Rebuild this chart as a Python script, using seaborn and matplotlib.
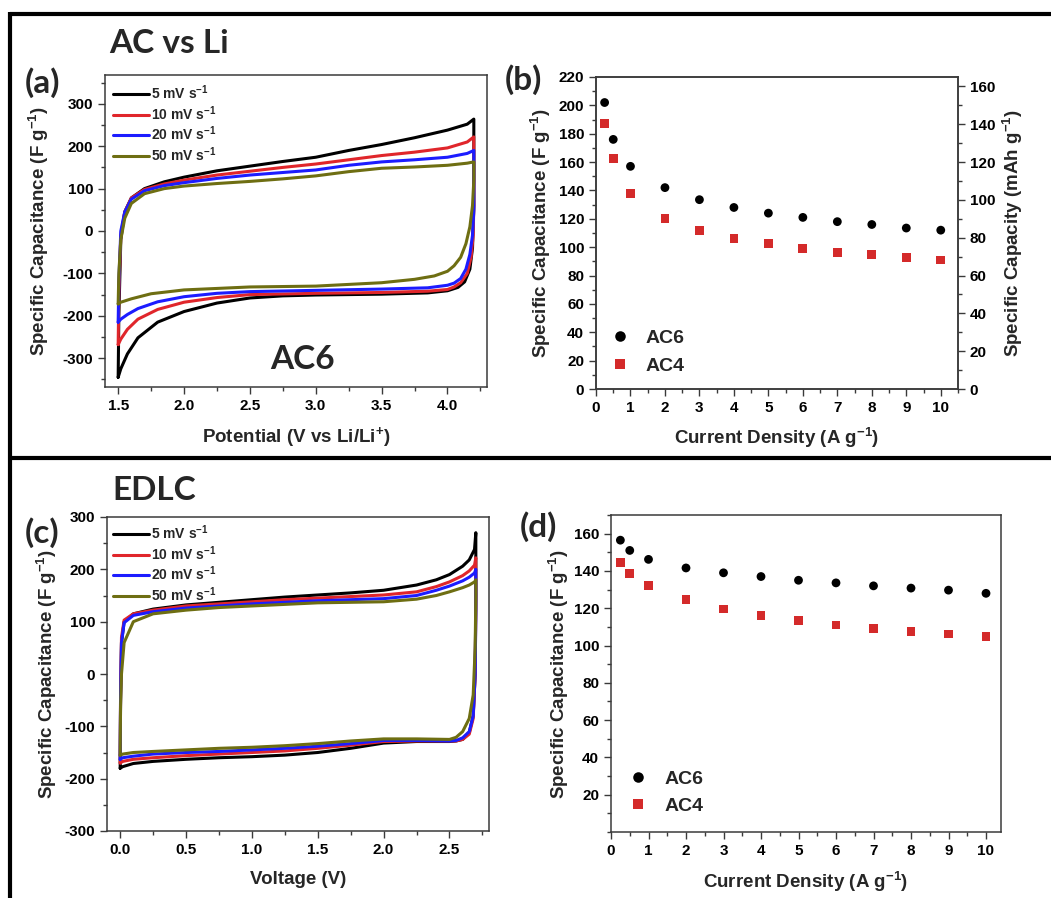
import numpy as np
import pandas as pd
import matplotlib
matplotlib.use("Agg")
import matplotlib.pyplot as plt
import seaborn as sns
from matplotlib.lines import Line2D
from matplotlib.ticker import MultipleLocator

# ----------------------------------------------------------
# DATA
# ----------------------------------------------------------
rates = ["5 mV s$^{-1}$", "10 mV s$^{-1}$", "20 mV s$^{-1}$", "50 mV s$^{-1}$"]
rate_colors = ["#000000", "#e0262b", "#1c1cff", "#6e6e12"]

# (a) CV, AC vs Li  -- anodic branch then cathodic branch
a_up_v = [1.50, 1.505, 1.52, 1.55, 1.60, 1.70, 1.85, 2.00, 2.25, 2.50, 2.75, 3.00, 3.25, 3.50, 3.75, 4.00, 4.15, 4.20]
a5_up = [-345, -200, -20, 45, 78, 100, 116, 127, 142, 153, 164, 174, 190, 204, 220, 238, 252, 264]
a10_up = [-268, -150, -10, 45, 78, 98, 111, 120, 132, 141, 150, 158, 168, 178, 186, 196, 210, 222]
a20_up = [-215, -120, 0, 45, 75, 95, 107, 114, 124, 132, 138, 144, 155, 163, 168, 174, 183, 190]
a50_up = [-172, -100, -20, 30, 65, 88, 100, 106, 112, 117, 123, 130, 140, 148, 151, 155, 160, 163]

a5_dn_v = [4.20, 4.19, 4.17, 4.13, 4.08, 4.00, 3.85, 3.50, 3.00, 2.75, 2.50, 2.25, 2.00, 1.80, 1.65, 1.57, 1.52, 1.50]
a5_dn = [60, -40, -90, -120, -133, -141, -146, -149, -151, -153, -158, -170, -190, -215, -252, -290, -325, -345]
a10_dn_v = [4.20, 4.195, 4.18, 4.15, 4.10, 4.05, 4.00, 3.85, 3.50, 3.00, 2.50, 2.25, 2.00, 1.80, 1.65, 1.57, 1.52, 1.50]
a10_dn = [60, -10, -60, -100, -122, -132, -138, -142, -145, -147, -150, -157, -168, -185, -208, -232, -255, -268]
a20_dn_v = [4.20, 4.19, 4.17, 4.14, 4.10, 4.05, 4.00, 3.85, 3.50, 3.00, 2.50, 2.25, 2.00, 1.80, 1.65, 1.57, 1.52, 1.50]
a20_dn = [50, -10, -55, -90, -112, -123, -128, -134, -137, -140, -143, -147, -155, -167, -183, -197, -208, -215]
a50_dn_v = [4.20, 4.19, 4.17, 4.14, 4.10, 4.05, 4.00, 3.90, 3.75, 3.50, 3.00, 2.50, 2.00, 1.75, 1.60, 1.52, 1.50]
a50_dn = [120, 60, 10, -30, -62, -82, -95, -106, -114, -122, -130, -132, -139, -148, -160, -168, -172]

# (b) rate capability, AC vs Li
current = [0.25, 0.5, 1, 2, 3, 4, 5, 6, 7, 8, 9, 10]
b_ac6 = [202, 176, 157, 142, 133.5, 128, 124, 121, 118, 116, 113.5, 112]
b_ac4 = [187, 162.5, 138, 120, 111.5, 106, 102.5, 99, 96.5, 95, 93, 91]

# (c) CV, EDLC
c_up_v = [0.00, 0.003, 0.01, 0.03, 0.10, 0.25, 0.50, 0.75, 1.00, 1.25, 1.50, 1.75, 2.00, 2.25, 2.40, 2.50, 2.60, 2.65, 2.69, 2.70]
c5_up = [-180, -50, 60, 100, 115, 124, 132, 137, 142, 147, 151, 155, 160, 170, 180, 190, 206, 218, 238, 270]
c10_up = [-170, -40, 70, 103, 115, 122, 130, 134, 138, 142, 145, 148, 151, 157, 167, 176, 188, 197, 208, 222]
c20_up = [-163, -40, 60, 98, 112, 119, 126, 130, 134, 137, 140, 142, 144, 150, 160, 168, 178, 185, 193, 200]
c50_up = [-155, -60, 0, 60, 100, 115, 122, 127, 130, 133, 136, 137, 138, 143, 150, 157, 165, 170, 176, 180]

c_dn_v = [2.70, 2.695, 2.68, 2.65, 2.60, 2.55, 2.50, 2.25, 2.00, 1.75, 1.50, 1.25, 1.00, 0.75, 0.50, 0.25, 0.10, 0.02, 0.00]
c5_dn = [150, 0, -80, -112, -125, -128, -129, -129, -132, -142, -150, -155, -158, -160, -163, -167, -171, -177, -180]
c10_dn = [130, 0, -85, -115, -125, -128, -128, -128, -129, -136, -142, -147, -150, -153, -156, -160, -163, -167, -170]
c20_dn = [120, 0, -80, -110, -122, -127, -128, -127, -127, -133, -138, -142, -145, -148, -150, -153, -157, -160, -163]
c50_dn = [150, 50, -40, -85, -110, -121, -125, -124, -124, -128, -133, -137, -140, -142, -145, -148, -150, -153, -155]

# (d) rate capability, EDLC
d_ac6 = [156.5, 151, 146.2, 141.6, 139, 137, 135, 133.6, 132, 130.8, 129.7, 128]
d_ac4 = [144.5, 138.8, 132.4, 124.6, 119.6, 116.3, 113.5, 111, 109.2, 107.6, 106.2, 104.8]

# ----------------------------------------------------------
# STYLE
# ----------------------------------------------------------
sns.set_style("ticks")
plt.rcParams["font.family"] = ["Liberation Sans", "DejaVu Sans"]
plt.rcParams["font.weight"] = "bold"
plt.rcParams["axes.labelweight"] = "bold"
plt.rcParams["axes.unicode_minus"] = False
plt.rcParams["mathtext.fontset"] = "custom"
plt.rcParams["mathtext.rm"] = "Liberation Sans:bold"
plt.rcParams["mathtext.bf"] = "Liberation Sans:bold"
plt.rcParams["mathtext.default"] = "bf"
plt.rcParams["axes.edgecolor"] = "#3a3a3a"
plt.rcParams["axes.linewidth"] = 1.1

TITLE_FONT = ["Lato", "DejaVu Sans"]
LABEL_SIZE = 13.5


def style_axes(ax):
    ax.tick_params(which="both", direction="out", colors="#3a3a3a", width=1.0,
                   labelcolor="black", labelsize=11)
    ax.tick_params(which="major", length=5)
    ax.tick_params(which="minor", length=3)
    for lab in ax.get_xticklabels() + ax.get_yticklabels():
        lab.set_fontweight("bold")
    for s in ax.spines.values():
        s.set_visible(True)


def cv_frame(up_v, ups, dn_vs, dns):
    parts = []
    for rate, up, dv, dn in zip(rates, ups, dn_vs, dns):
        parts.append(pd.DataFrame({"V": list(up_v) + list(dv),
                                   "C": list(up) + list(dn),
                                   "rate": rate}))
    return pd.concat(parts, ignore_index=True)


fig = plt.figure(figsize=(10.51, 8.98), dpi=100)
W, H = 1051, 898


def add_ax(l, t, r, b):
    return fig.add_axes([l / W, 1 - b / H, (r - l) / W, (b - t) / H])


ax_a = add_ax(105, 75, 487, 387)
ax_b = add_ax(596, 77, 958, 389)
ax_c = add_ax(107, 517, 489, 831)
ax_d = add_ax(611, 515, 1001, 832)

palette = dict(zip(rates, rate_colors))
cv_legend = dict(title=None, frameon=False, prop={"weight": "bold", "size": 10},
                 handlelength=2.6, handletextpad=0.1, labelspacing=0.15)
sc_legend = dict(title=None, frameon=False, prop={"weight": "bold", "size": 14},
                 handletextpad=0.35, labelspacing=0.5, markerscale=1.2)

# ----------------------------------------------------------
# (a) CV vs Li
# ----------------------------------------------------------
df_a = cv_frame(a_up_v, [a5_up, a10_up, a20_up, a50_up],
                [a5_dn_v, a10_dn_v, a20_dn_v, a50_dn_v],
                [a5_dn, a10_dn, a20_dn, a50_dn])
sns.lineplot(data=df_a, x="V", y="C", hue="rate", hue_order=rates, palette=palette,
             sort=False, estimator=None, lw=2.2, ax=ax_a)
ax_a.set_xlim(1.4, 4.3)
ax_a.set_ylim(-368, 368)
ax_a.xaxis.set_major_locator(MultipleLocator(0.5))
ax_a.xaxis.set_minor_locator(MultipleLocator(0.25))
ax_a.set_yticks(range(-300, 301, 100))
ax_a.yaxis.set_minor_locator(MultipleLocator(50))
ax_a.set_xlabel("Potential (V vs Li/Li$^{+}$)", fontsize=LABEL_SIZE, labelpad=9)
ax_a.set_ylabel("Specific Capacitance (F g$^{-1}$)", fontsize=LABEL_SIZE, labelpad=8)
ax_a.text(0.516, 0.087, "AC6", transform=ax_a.transAxes, ha="center", va="center",
          fontsize=24, fontweight="bold", family=TITLE_FONT)
sns.move_legend(ax_a, "upper left", bbox_to_anchor=(0.0, 1.0), borderaxespad=0.2, **cv_legend)

# ----------------------------------------------------------
# (b) rate capability vs Li
# ----------------------------------------------------------
df_b = pd.DataFrame({"I": current * 2, "C": b_ac6 + b_ac4,
                     "sample": ["AC6"] * len(current) + ["AC4"] * len(current)})
sns.scatterplot(data=df_b, x="I", y="C", hue="sample", style="sample",
                palette={"AC6": "black", "AC4": "#d42a2a"},
                markers={"AC6": "o", "AC4": "s"}, s=40, linewidth=0, ax=ax_b)
ax_b.set_xlim(0, 10.5)
ax_b.set_ylim(0, 220)
ax_b.xaxis.set_major_locator(MultipleLocator(1))
ax_b.xaxis.set_minor_locator(MultipleLocator(0.5))
ax_b.yaxis.set_major_locator(MultipleLocator(20))
ax_b.yaxis.set_minor_locator(MultipleLocator(10))
ax_b.set_xlabel("Current Density (A g$^{-1}$)", fontsize=LABEL_SIZE, labelpad=8)
ax_b.set_ylabel("Specific Capacitance (F g$^{-1}$)", fontsize=LABEL_SIZE)
sns.move_legend(ax_b, "lower left", bbox_to_anchor=(-0.037, -0.01), **sc_legend)
ax_b2 = ax_b.twinx()
ax_b2.set_ylim(0, 165)
ax_b2.yaxis.set_major_locator(MultipleLocator(20))
ax_b2.yaxis.set_minor_locator(MultipleLocator(10))
ax_b2.set_ylabel("Specific Capacity (mAh g$^{-1}$)", fontsize=LABEL_SIZE)

# ----------------------------------------------------------
# (c) CV EDLC
# ----------------------------------------------------------
df_c = cv_frame(c_up_v, [c5_up, c10_up, c20_up, c50_up],
                [c_dn_v] * 4, [c5_dn, c10_dn, c20_dn, c50_dn])
sns.lineplot(data=df_c, x="V", y="C", hue="rate", hue_order=rates, palette=palette,
             sort=False, estimator=None, lw=2.2, ax=ax_c)
ax_c.set_xlim(-0.1, 2.8)
ax_c.set_ylim(-300, 300)
ax_c.xaxis.set_major_locator(MultipleLocator(0.5))
ax_c.xaxis.set_minor_locator(MultipleLocator(0.25))
ax_c.set_yticks(range(-300, 301, 100))
ax_c.yaxis.set_minor_locator(MultipleLocator(50))
ax_c.set_xlabel("Voltage (V)", fontsize=LABEL_SIZE, labelpad=10)
ax_c.set_ylabel("Specific Capacitance (F g$^{-1}$)", fontsize=LABEL_SIZE, labelpad=4)
sns.move_legend(ax_c, "upper left", bbox_to_anchor=(0.0, 1.0), borderaxespad=0.05, **cv_legend)

# ----------------------------------------------------------
# (d) rate capability EDLC
# ----------------------------------------------------------
df_d = pd.DataFrame({"I": current * 2, "C": d_ac6 + d_ac4,
                     "sample": ["AC6"] * len(current) + ["AC4"] * len(current)})
sns.scatterplot(data=df_d, x="I", y="C", hue="sample", style="sample",
                palette={"AC6": "black", "AC4": "#d42a2a"},
                markers={"AC6": "o", "AC4": "s"}, s=40, linewidth=0, ax=ax_d)
ax_d.set_xlim(0, 10.4)
ax_d.set_ylim(0, 170)
ax_d.xaxis.set_major_locator(MultipleLocator(1))
ax_d.xaxis.set_minor_locator(MultipleLocator(0.5))
ax_d.set_yticks(range(20, 161, 20))
ax_d.yaxis.set_minor_locator(MultipleLocator(10))
ax_d.set_xlabel("Current Density (A g$^{-1}$)", fontsize=LABEL_SIZE, labelpad=9)
ax_d.set_ylabel("Specific Capacitance (F g$^{-1}$)", fontsize=LABEL_SIZE, labelpad=2)
sns.move_legend(ax_d, "lower left", bbox_to_anchor=(-0.025, -0.002), **sc_legend)

for ax in [ax_a, ax_b, ax_b2, ax_c, ax_d]:
    style_axes(ax)

# ----------------------------------------------------------
# PANEL LETTERS, SECTION TITLES, FRAME
# ----------------------------------------------------------
fig.text(109 / W, 1 - 53 / H, "AC vs Li", fontsize=24, fontweight="bold",
         family=TITLE_FONT, va="baseline")
fig.text(112 / W, 1 - 500 / H, "EDLC", fontsize=24, fontweight="bold",
         family=TITLE_FONT, va="baseline")
for lbl, x, y in [("(a)", 25, 83), ("(b)", 505, 80), ("(c)", 25, 533), ("(d)", 520, 527)]:
    fig.text(x / W, 1 - y / H, lbl, fontsize=24, fontweight="bold",
             family=TITLE_FONT, va="center", ha="left")

frame_kw = dict(color="black", lw=3, solid_capstyle="butt")
fig.add_artist(Line2D([9.5 / W, 1], [1 - 13.5 / H] * 2, transform=fig.transFigure, **frame_kw))
fig.add_artist(Line2D([9.5 / W, 1], [1 - 457.5 / H] * 2, transform=fig.transFigure, **frame_kw))
fig.add_artist(Line2D([9.5 / W] * 2, [0, 1 - 12 / H], transform=fig.transFigure, **frame_kw))

fig.savefig("out.png", dpi=100)
